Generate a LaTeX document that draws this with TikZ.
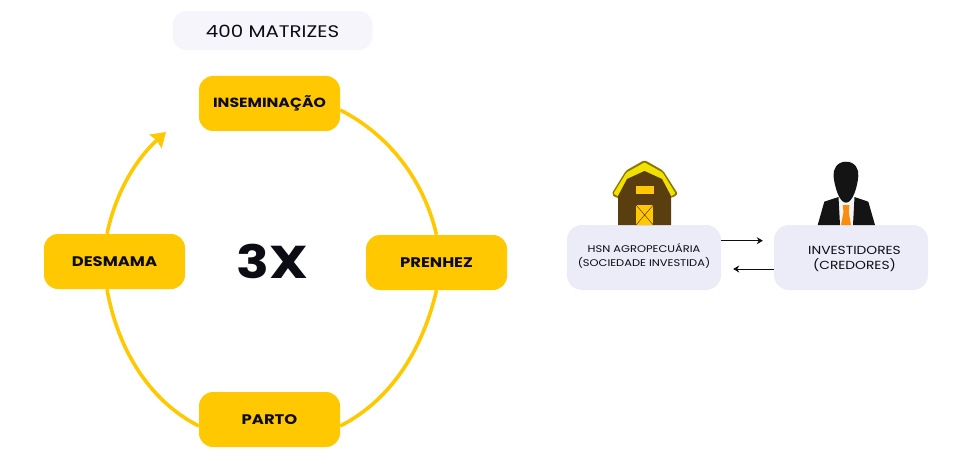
\documentclass[tikz,border=0pt]{standalone}
\usepackage{fontspec}
\setmainfont{Poppins}
\newfontfamily\widefont[FakeStretch=1.18]{Poppins}
\usetikzlibrary{arrows.meta, positioning}
\definecolor{yellow1}{RGB}{255, 200, 0}
\definecolor{lilac1}{RGB}{236, 235, 248}
\definecolor{lilac2}{RGB}{246, 245, 251}
\definecolor{ink1}{RGB}{12, 12, 20}
\definecolor{barn1}{RGB}{90, 62, 16}
\definecolor{barn2}{RGB}{140, 120, 0}
\definecolor{barn3}{RGB}{240, 225, 0}
\definecolor{tie1}{RGB}{250, 140, 15}
\tikzset{
  stagebox/.style={fill=yellow1, rounded corners=14pt, minimum width=141pt, minimum height=55pt, inner sep=0pt, text=ink1, font=\widefont\bfseries\fontsize{13.9}{16}\selectfont},
  partybox/.style={fill=lilac1, rounded corners=15pt, minimum width=154pt, minimum height=65pt, inner sep=0pt, align=center, text=ink1},
  ring/.style={draw=yellow1, line width=3.6pt, looseness=0.9},
  flow/.style={draw=ink1, line width=0.8pt, -{Stealth[length=6pt, width=7pt]}}
}

\begin{document}
\begin{tikzpicture}[x=1pt, y=-1pt]
  \useasboundingbox (0,0) rectangle (965,465);

  % cycle
  \node[fill=lilac2, rounded corners=14pt, minimum width=200pt, minimum height=39pt, inner sep=0pt, text height=14pt, text depth=0pt, text=ink1, font=\widefont\fontsize{16.8}{18}\selectfont] (matrizes) at (272.5,30.5) {400 MATRIZES};
  \node[stagebox, font=\widefont\bfseries\fontsize{13.3}{16}\selectfont] (insem) at (269.5,103.5) {INSEMINAÇÃO};
  \node[stagebox] (desmama) at (114.5,261.5) {DESMAMA};
  \node[stagebox] (prenhez) at (436.5,262.5) {PRENHEZ};
  \node[stagebox] (parto) at (269.5,419.5) {PARTO};
  \node[text=ink1, font=\widefont\bfseries\fontsize{46}{48}\selectfont] (vezes) at (272,261.5) {3X};
  \coordinate (tip) at (166,132);

  \draw[ring] ([yshift=-6.5pt]insem.east) to[out=-27, in=103] (prenhez.north);
  \draw[ring] (prenhez.south) to[out=-103, in=27] ([yshift=-6.5pt]parto.east);
  \draw[ring] ([yshift=-6.5pt]parto.west) to[out=153, in=-80] ([xshift=-7.5pt]desmama.south);
  \draw[ring, -{Stealth[length=14pt, width=18pt, inset=1.5pt]}] ([xshift=-7.5pt]desmama.north) to[out=78, in=222] (tip);

  % parties
  \node[partybox, font=\widefont\fontsize{9.7}{14}\selectfont] (hsn) at (644,257.5) {HSN AGROPECUÁRIA\\(SOCIEDADE INVESTIDA)\rule[-4pt]{0pt}{0pt}};
  \node[partybox, font=\widefont\fontsize{11.7}{15}\selectfont] (invest) at (851,257.5) {\hspace*{7pt}\rule{0pt}{12pt}INVESTIDORES\\\hspace*{7pt}(CREDORES)};

  \draw[flow, shorten >=11pt] ([yshift=16.8pt]hsn.east) -- ([yshift=16.8pt]invest.west);
  \draw[flow, shorten >=12pt] ([yshift=-11.5pt]invest.west) -- ([yshift=-11.5pt]hsn.east);

  % barn
  \fill[barn2, rounded corners=2pt] (644.5,160) -- (663,170.5) -- (678,194) -- (672,198) -- (616,198) -- (611.5,194) -- (626,170.5) -- cycle;
  \fill[barn3, rounded corners=1pt] (644.5,162.5) -- (662.5,172.5) -- (675.5,193.5) -- (670,197) -- (619,197) -- (613.5,193.5) -- (626.5,172.5) -- cycle;
  \fill[barn1] (644.5,171) -- (662,179) -- (671,196) -- (671,225) -- (618,225) -- (618,196) -- (627,179) -- cycle;
  \fill[yellow1] (636,186.3) rectangle (654,194.3);
  \fill[yellow1] (636,205) rectangle (653.3,225);
  \draw[barn1, line width=0.5pt] (636,205) -- (653.3,225) (653.3,205) -- (636,225);

  % investor
  \fill[black!4] (837,197) rectangle (855,225);
  \fill[black!92] (817.7,225) -- (824.3,201.7) -- (838.5,197) -- (840,225) -- cycle;
  \fill[black!92] (875,225) -- (868.3,201.7) -- (854.5,197) -- (853,225) -- cycle;
  \fill[tie1] (843.5,212) -- (842.7,205) -- (849.5,205) -- (848.7,212) -- (851,225) -- (841,225) -- cycle;
  \fill[black!92] (846,161.7) .. controls (855,161.7) and (859,169) .. (858.3,176) .. controls (857.5,186) and (853,202.7) .. (846,202.7) .. controls (839,202.7) and (834.5,186) .. (833.5,176) .. controls (833,169) and (837,161.7) .. (846,161.7);
\end{tikzpicture}
\end{document}
